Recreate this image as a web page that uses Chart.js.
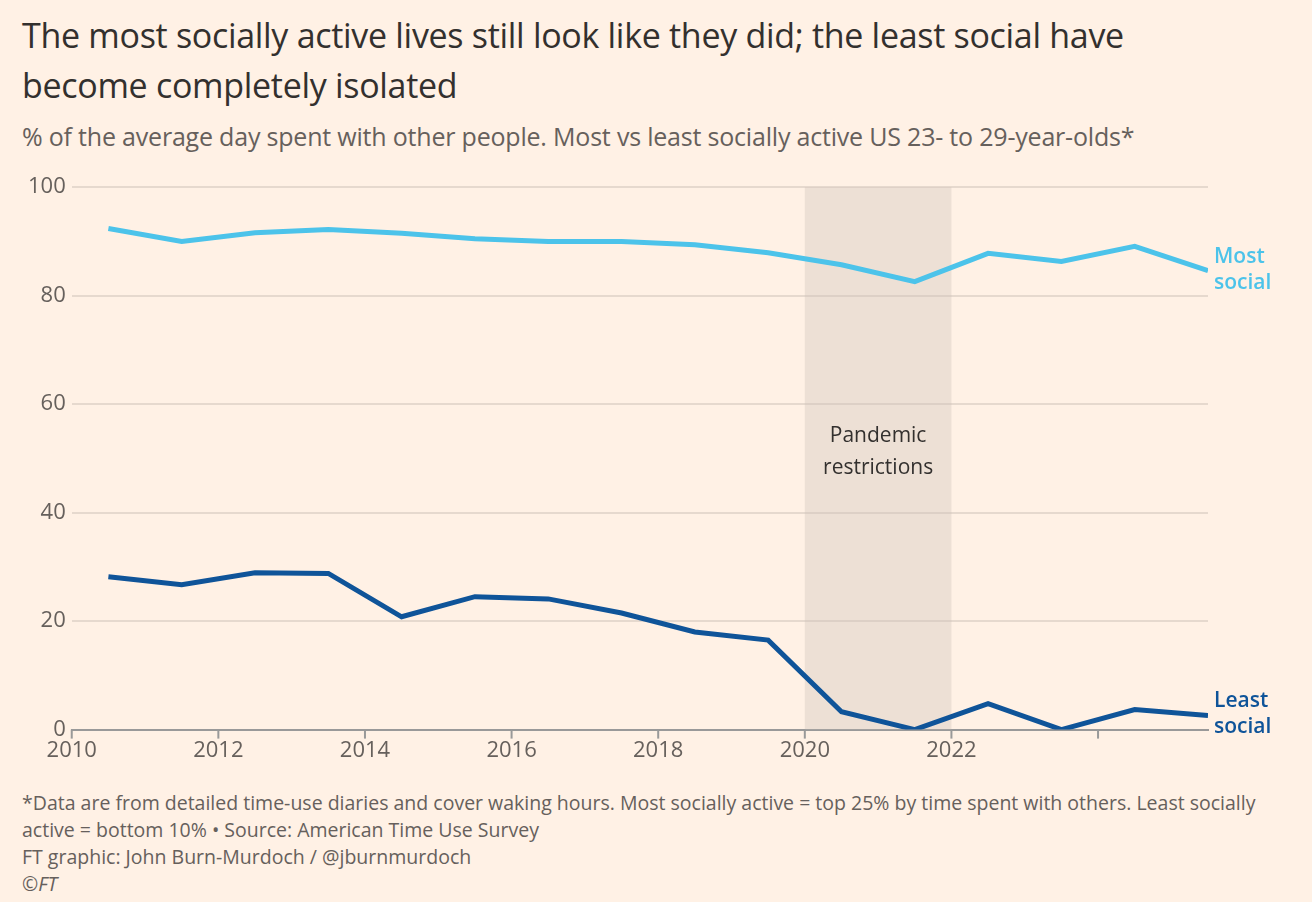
<!DOCTYPE html>
<html><head><meta charset="utf-8">
<script src="https://cdn.jsdelivr.net/npm/chart.js@4/dist/chart.umd.min.js"></script>
<style>
body{margin:0;background:#fff1e5;font-family:"Open Sans",sans-serif;width:1312px;height:902px;overflow:hidden;position:relative}
h1{position:absolute;left:22px;top:10px;margin:0;font-weight:400;font-size:34px;line-height:50px;color:#33302e;width:1220px;letter-spacing:-0.3px}
.sub{position:absolute;left:22px;top:119px;font-size:25px;color:#66605c;letter-spacing:-0.2px;white-space:nowrap}
.foot{position:absolute;left:22px;top:789px;font-size:19.5px;line-height:27px;color:#66605c;width:1240px}
#wrap{position:absolute;left:0;top:168px;width:1312px;height:596px}
</style></head><body>
<h1>The most socially active lives still look like they did; the least social have become completely isolated</h1>
<div class="sub">% of the average day spent with other people. Most vs least socially active US 23- to 29-year-olds*</div>
<div id="wrap"><canvas id="c"></canvas></div>
<div class="foot">*Data are from detailed time-use diaries and cover waking hours. Most socially active = top 25% by time spent with others. Least socially active = bottom 10% • Source: American Time Use Survey<br>FT graphic: John Burn-Murdoch / @jburnmurdoch<br><i>©FT</i></div>
<script>
const years = [2010.5,2011.5,2012.5,2013.5,2014.5,2015.5,2016.5,2017.5,2018.5,2019.5,2020.5,2021.5,2022.5,2023.5,2024.5,2025.5];
const mostSocial = [92.4,90.0,91.6,92.2,91.5,90.5,90.0,90.0,89.4,87.9,85.7,82.6,87.8,86.3,89.1,84.6];
const leastSocial = [28.2,26.7,28.9,28.8,20.8,24.5,24.1,21.5,18.0,16.5,3.3,0,4.8,0,3.7,2.6];
const pandemic = [2020, 2022];
const seriesLabels = [["Most","social"],["Least","social"]];
const colors = ["#4cc3ea","#0f5499"];

const extras = {
  id:'extras',
  beforeDatasetsDraw(chart){
    const {ctx, chartArea:a, scales:{x,y}} = chart;
    const x0 = x.getPixelForValue(pandemic[0]), x1 = x.getPixelForValue(pandemic[1]);
    ctx.save();
    ctx.fillStyle = 'rgba(204,193,183,0.35)';
    ctx.fillRect(x0, a.top, x1-x0, a.bottom-a.top);
    ctx.fillStyle = '#33302e';
    ctx.font = '21px "Open Sans"';
    ctx.textAlign = 'center';
    ctx.fillText('Pandemic', (x0+x1)/2, y.getPixelForValue(60)+38);
    ctx.fillText('restrictions', (x0+x1)/2, y.getPixelForValue(60)+70);
    ctx.restore();
  },
  afterDatasetsDraw(chart){
    const {ctx, scales:{x,y}} = chart;
    ctx.save();
    ctx.font = '600 21px "Open Sans"';
    const n = years.length-1;
    [mostSocial, leastSocial].forEach((d,i)=>{
      const px = x.getPixelForValue(years[n]) + 6;
      const py = y.getPixelForValue(d[n]);
      ctx.fillStyle = colors[i];
      ctx.fillText(seriesLabels[i][0], px, py-8);
      ctx.fillText(seriesLabels[i][1], px, py+18);
    });
    ctx.restore();
  }
};

new Chart(document.getElementById('c'), {
  type:'line',
  data:{datasets:[
    {data:years.map((t,i)=>({x:t,y:mostSocial[i]})), borderColor:colors[0], borderWidth:5, pointRadius:0, tension:0},
    {data:years.map((t,i)=>({x:t,y:leastSocial[i]})), borderColor:colors[1], borderWidth:5, pointRadius:0, tension:0}
  ]},
  options:{
    responsive:true, maintainAspectRatio:false, animation:false,
    layout:{padding:{left:22,right:104,top:10,bottom:0}},
    plugins:{legend:{display:false}, tooltip:{enabled:false}},
    scales:{
      x:{type:'linear', min:2010, max:2025.5,
        ticks:{stepSize:2, color:'#66605c', font:{size:22, family:'Open Sans'}, padding:0,
          callback:v=>v%2===0?String(v):''},
        grid:{display:false, drawOnChartArea:false},
        border:{color:'#999', width:2}},
      y:{min:0, max:100,
        ticks:{stepSize:20, color:'#66605c', font:{size:22, family:'Open Sans'}, padding:6},
        grid:{color:'#e6d9ce', lineWidth:2, drawTicks:false},
        border:{display:false}}
    }
  },
  plugins:[extras, {id:'xt', afterDraw(chart){
    const {ctx, chartArea:a, scales:{x}} = chart;
    ctx.save(); ctx.strokeStyle='#999'; ctx.lineWidth=2;
    for(let v=2010; v<=2024; v+=2){const p=x.getPixelForValue(v); ctx.beginPath(); ctx.moveTo(p,a.bottom); ctx.lineTo(p,a.bottom+9); ctx.stroke();}
    ctx.restore();
  }}]
});
</script>
</body></html>
